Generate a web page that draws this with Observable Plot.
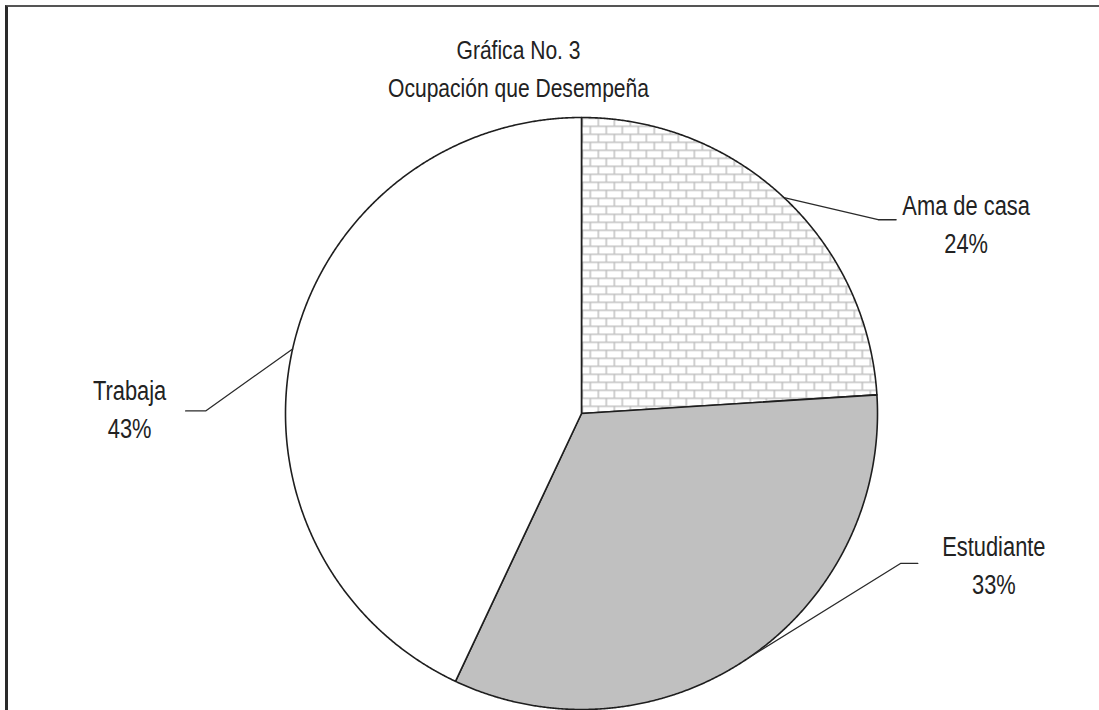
<!DOCTYPE html>
<html><head><meta charset="utf-8">
<script src="https://cdn.jsdelivr.net/npm/d3@7"></script>
<script src="https://cdn.jsdelivr.net/npm/@observablehq/plot@0.6"></script>
<style>
html,body{margin:0;padding:0;background:#fff;}
#wrap{position:relative;width:1099px;height:710px;overflow:hidden;}
#frame{position:absolute;left:5px;top:5px;right:-10px;bottom:-10px;border-left:3px solid #2a2a2a;border-top:2px solid #555;pointer-events:none;}
</style></head><body>
<div id="wrap"><div id="frame"></div></div>
<script>
// ---- data ----
const categories = ["Ama de casa", "Estudiante", "Trabaja"];
const percents = [24, 33, 43];
const titleLines = ["Gráfica No. 3", "Ocupación que Desempeña"];

// ---- layout (pixels) ----
const L = {cx: 581, cy: 413, r: 296};
const leaderLayout = {
  "Ama de casa": {elbow: [94, 22], end: [112, 22], text: [70, -32]},
  "Estudiante":  {elbow: [153, -95], end: [170, -95], text: [76, -34]},
  "Trabaja":     {elbow: [-87, 62], end: [-107, 62], text: [-56, -38]}
};
const titlePos = {x: 518, top: 32};
const fills = ["url(#bricks)", "#c0c0c0", "#ffffff"];
const font = "'Liberation Sans', Arial, sans-serif";
const textSqueeze = 0.81; // narrow rendering of the original's font

const dx = p => p / L.r;          // pixel offset -> unit x
const dy = p => -p / L.r;         // pixel offset -> unit y (y up)

// slices
const slices = [];
let acc = 0;
categories.forEach((c, i) => {
  const a0 = acc / 100 * 2 * Math.PI;
  acc += percents[i];
  const a1 = acc / 100 * 2 * Math.PI;
  slices.push({cat: c, pct: percents[i], a0, a1, mid: (a0 + a1) / 2});
});

const piePts = [];
for (const s of slices) {
  piePts.push({cat: s.cat, ux: 0, uy: 0});
  const n = Math.ceil((s.a1 - s.a0) / (Math.PI / 720));
  for (let k = 0; k <= n; k++) {
    const a = s.a0 + (s.a1 - s.a0) * k / n;
    piePts.push({cat: s.cat, ux: Math.sin(a), uy: Math.cos(a)});
  }
}

const leaderPts = [];
const labels = [];
for (const s of slices) {
  const ex = Math.sin(s.mid), ey = Math.cos(s.mid);
  const lay = leaderLayout[s.cat];
  const elx = ex + dx(lay.elbow[0]), ely = ey + dy(lay.elbow[1]);
  const enx = ex + dx(lay.end[0]), eny = ey + dy(lay.end[1]);
  leaderPts.push({cat: s.cat, ux: ex, uy: ey});
  leaderPts.push({cat: s.cat, ux: elx, uy: ely});
  leaderPts.push({cat: s.cat, ux: enx, uy: eny});
  labels.push({text: `${s.cat}\n${s.pct}%`, ux: enx + dx(lay.text[0]), uy: eny + dy(lay.text[1])});
}

const titleDatum = [{text: titleLines.join("\n"), ux: dx(titlePos.x - L.cx), uy: dy(titlePos.top - L.cy)}];

const svg = Plot.plot({
  width: 1099,
  height: 710,
  margin: 0,
  style: {fontFamily: font, background: "transparent", color: "#222"},
  x: {domain: [-1, 1], range: [L.cx - L.r, L.cx + L.r], axis: null},
  y: {domain: [-1, 1], range: [L.cy + L.r, L.cy - L.r], axis: null},
  color: {domain: categories, range: fills},
  marks: [
    Plot.line(piePts, {x: "ux", y: "uy", z: "cat", fill: "cat", stroke: "#1e1e1e", strokeWidth: 1.6, curve: "linear-closed"}),
    Plot.line(leaderPts, {x: "ux", y: "uy", z: "cat", stroke: "#2a2a2a", strokeWidth: 1.3, curve: "linear"}),
    Plot.text(labels, {x: "ux", y: "uy", text: "text", fontSize: 27, lineHeight: 38 / 27, lineAnchor: "top", textAnchor: "middle", fill: "#222"}),
    Plot.text(titleDatum, {x: "ux", y: "uy", text: "text", fontSize: 26, lineHeight: 38 / 26, lineAnchor: "top", textAnchor: "middle", fill: "#222"})
  ]
});

// horizontally condensed text, like the original
d3.select(svg).selectAll("text").each(function () {
  const t = this.getAttribute("transform") || "";
  this.setAttribute("transform", `${t} scale(${textSqueeze},1)`);
});

const defs = d3.select(svg).insert("defs", ":first-child");
const pat = defs.append("pattern").attr("id", "bricks")
  .attr("patternUnits", "userSpaceOnUse").attr("width", 16).attr("height", 16)
  .attr("x", 581).attr("y", 117);
pat.append("rect").attr("width", 16).attr("height", 16).attr("fill", "#fff");
pat.append("path").attr("d", "M0,0.75H16M0,8.75H16M0.75,0V8M8.75,8V16")
  .attr("stroke", "#c2c2c2").attr("stroke-width", 1.6).attr("fill", "none");

const wrap = document.getElementById("wrap");
wrap.insertBefore(svg, wrap.firstChild);
</script>
</body></html>
